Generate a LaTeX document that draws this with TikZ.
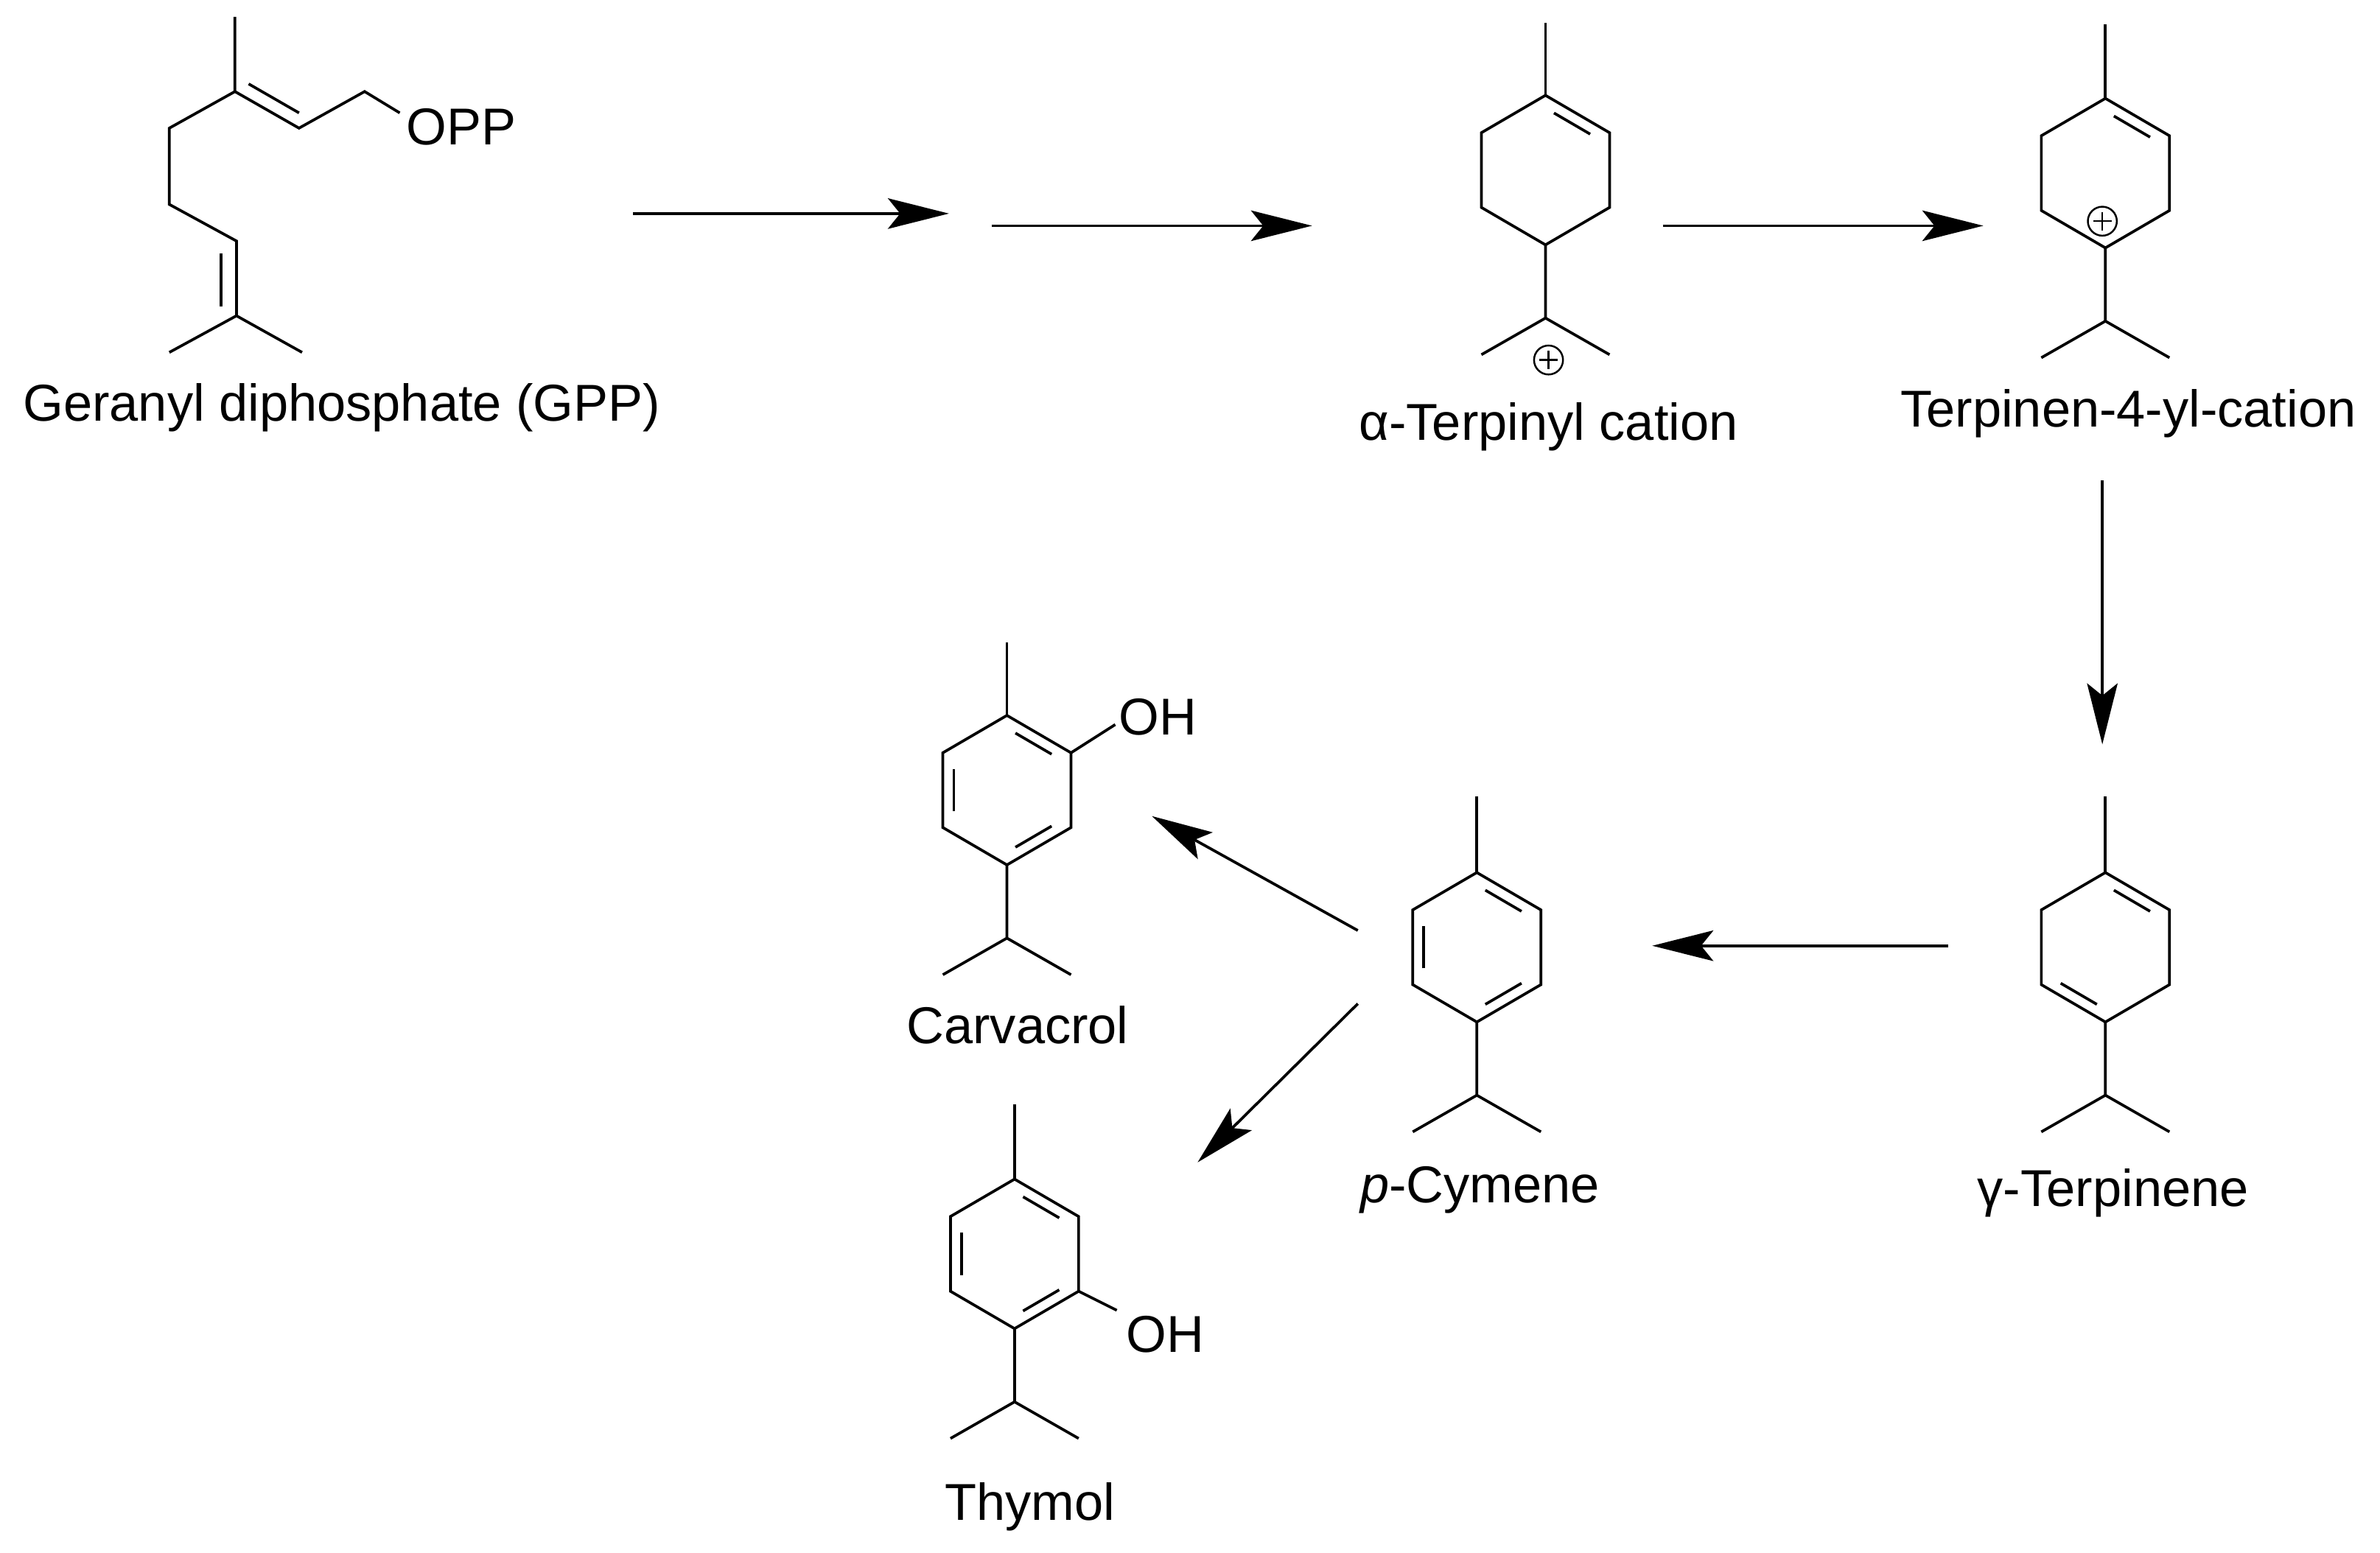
\documentclass[tikz,border=0pt]{standalone}
\usepackage{fontspec}
\setmainfont{Liberation Sans}
\usetikzlibrary{calc,arrows.meta}
\tikzset{bond/.style={line width=0.9pt,line join=miter},
  rxn/.style={line width=0.9pt,-{Stealth[length=20,width=10,inset=4]}},
  lbl/.style={font=\fontsize{17}{20}\selectfont,inner sep=0pt},
  atom/.style={font=\fontsize{17}{20}\selectfont,inner sep=0pt,anchor=west}}
\newcommand{\hexring}[3]{%
  \coordinate (#1c) at (#2,#3);
  \coordinate (#11) at (#2,#3-49);
  \coordinate (#12) at (#2+42,#3-24.5);
  \coordinate (#13) at (#2+42,#3+24.5);
  \coordinate (#14) at (#2,#3+49);
  \coordinate (#15) at (#2-42,#3+24.5);
  \coordinate (#16) at (#2-42,#3-24.5);
  \draw[bond] (#11)--(#12)--(#13)--(#14)--(#15)--(#16)--cycle;}
\newcommand{\inb}[3]{\draw[bond] ($(#1)!0.16!(#2)!0.17!(#3)$)--($(#2)!0.16!(#1)!0.17!(#3)$);}
\newcommand{\cplus}[2]{\draw[line width=0.6pt] (#1,#2) circle (9.5);
  \draw[line width=0.6pt] (#1-6,#2)--(#1+6,#2) (#1,#2-6)--(#1,#2+6);}
\newcommand{\isoprop}[3]{% name, cx, ring bottom y
  \coordinate (#1i) at (#2,#3+48);
  \draw[bond] (#2,#3)--(#1i) (#2-42,#3+72)--(#1i)--(#2+42,#3+72);}
\begin{document}
\begin{tikzpicture}[x=0.5pt,y=-0.5pt]
\useasboundingbox (0,0) rectangle (1560,1018);
% GPP
\coordinate (g3) at (154,60); \coordinate (g2) at (196,84); \coordinate (g1) at (239,60);
\coordinate (g4) at (111,84); \coordinate (g5) at (111,134); \coordinate (g6) at (155,158);
\coordinate (g7) at (155,207);
\draw[bond] (154,11)--(g3)--(g2)--(g1)--(262,74);
\draw[bond] (g3)--(g4)--(g5)--(g6)--(g7);
\draw[bond] (111,231)--(g7)--(198,231);
\draw[bond] (163,55)--(196,74);
\draw[bond] (145,166)--(145,201);
\node[atom] (opp) at (266,83) {OPP};
\node[lbl] (lgpp) at (224,267) {Geranyl diphosphate (GPP)};
% arrows top
\coordinate (a1s) at (415,140); \coordinate (a1e) at (622,140);
\coordinate (a2s) at (650,148); \coordinate (a2e) at (860,148);
\coordinate (a3s) at (1090,148); \coordinate (a3e) at (1300,148);
\draw[rxn] (a1s)--(a1e); \draw[rxn] (a2s)--(a2e); \draw[rxn] (a3s)--(a3e);
% alpha-terpinyl
\hexring{A}{1013}{111.5}
\draw[bond] (1013,15)--(A1);
\inb{A1}{A2}{Ac}
\isoprop{A}{1013}{160.5}
\cplus{1015}{236}
\node[lbl] (lA) at (1015,280) {α-Terpinyl cation};
% terpinen-4-yl
\hexring{T}{1380}{113.5}
\draw[bond] (1380,16)--(T1);
\inb{T1}{T2}{Tc}
\isoprop{T}{1380}{162.5}
\cplus{1378}{145}
\node[lbl] (lT) at (1395,271) {Terpinen-4-yl-cation};
\coordinate (a4s) at (1378,315); \coordinate (a4e) at (1378,488);
\draw[rxn] (a4s)--(a4e);
% gamma-terpinene
\hexring{G}{1380}{621}
\draw[bond] (1380,522)--(G1);
\inb{G1}{G2}{Gc} \inb{G4}{G5}{Gc}
\isoprop{G}{1380}{670}
\node[lbl] (lG) at (1385,782) {γ-Terpinene};
\coordinate (a5s) at (1277,620); \coordinate (a5e) at (1083,620);
\draw[rxn] (a5s)--(a5e);
% p-cymene
\hexring{P}{968}{621}
\draw[bond] (968,522)--(P1);
\inb{P1}{P2}{Pc} \inb{P5}{P6}{Pc} \inb{P3}{P4}{Pc}
\isoprop{P}{968}{670}
\node[lbl] (lP) at (970,780) {\textit{p}-Cymene};
\coordinate (a6s) at (890,610); \coordinate (a6e) at (755,535);
\coordinate (a7s) at (890,658); \coordinate (a7e) at (785,762);
\draw[rxn] (a6s)--(a6e); \draw[rxn] (a7s)--(a7e);
% carvacrol
\hexring{C}{660}{518}
\draw[bond] (660,421)--(C1);
\inb{C1}{C2}{Cc} \inb{C5}{C6}{Cc} \inb{C3}{C4}{Cc}
\isoprop{C}{660}{567}
\draw[bond] (C2)--(731,475);
\node[atom] (ohC) at (733,470) {OH};
\node[lbl] (lC) at (667,672) {Carvacrol};
% thymol
\hexring{Y}{665}{822}
\draw[bond] (665,724)--(Y1);
\inb{Y1}{Y2}{Yc} \inb{Y5}{Y6}{Yc} \inb{Y3}{Y4}{Yc}
\isoprop{Y}{665}{871}
\draw[bond] (Y3)--(732,859);
\node[atom] (ohY) at (738,875) {OH};
\node[lbl] (lY) at (675,988) {Thymol};
\end{tikzpicture}
\end{document}
